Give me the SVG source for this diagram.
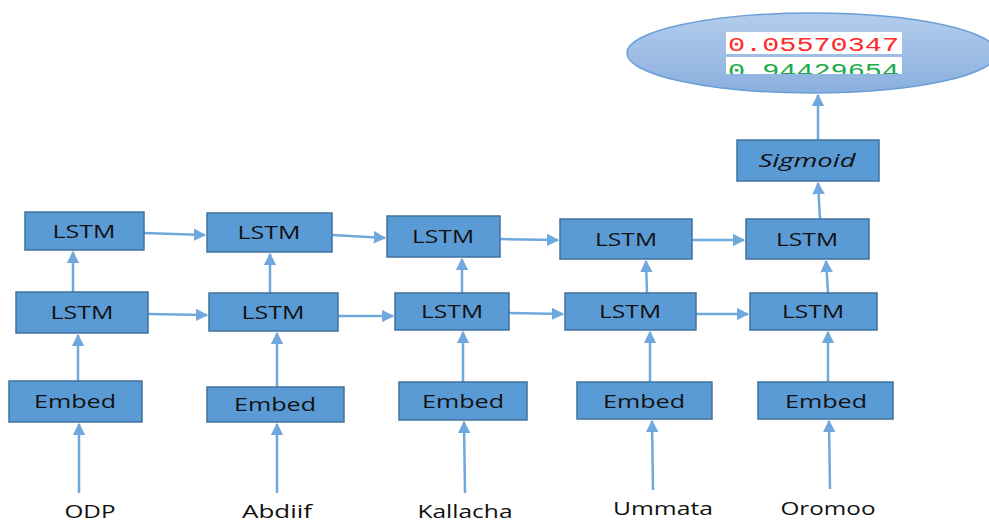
<svg xmlns="http://www.w3.org/2000/svg" width="989" height="525" viewBox="0 0 989 525">
<defs>
<style>
.box{fill:#5B9BD5;stroke:#41719C;stroke-width:1.5}
.lbl{font-family:"Open Sans","Liberation Sans",sans-serif;font-size:19px;fill:#111;text-anchor:middle}
.word{font-family:"Open Sans","Liberation Sans",sans-serif;font-size:19px;fill:#111;text-anchor:middle}
.c{stroke:#6FA8DC;stroke-width:2.5;fill:none;marker-end:url(#ah)}
.num{font-family:"Liberation Mono",monospace;font-size:21px}
</style>
<marker id="ah" viewBox="0 0 10 10" refX="9" refY="5" markerWidth="5" markerHeight="5" orient="auto" markerUnits="strokeWidth">
<path d="M0,0 L10,5 L0,10 z" fill="#6FA8DC"/>
</marker>
<linearGradient id="eg" x1="0" y1="0" x2="0" y2="1">
<stop offset="0" stop-color="#B3CDEC"/>
<stop offset="1" stop-color="#8AAFDE"/>
</linearGradient>
<clipPath id="gclip"><rect x="726" y="57" width="176" height="17"/></clipPath>
</defs>

<g id="connectors">
<line class="c" x1="79" y1="493" x2="79" y2="424"/>
<line class="c" x1="277" y1="493" x2="277" y2="424"/>
<line class="c" x1="465" y1="493" x2="464" y2="422"/>
<line class="c" x1="653" y1="490" x2="652" y2="421"/>
<line class="c" x1="830" y1="489" x2="829" y2="421"/>
<line class="c" x1="78" y1="381" x2="78" y2="335"/>
<line class="c" x1="277" y1="387" x2="277" y2="333"/>
<line class="c" x1="463" y1="382" x2="463" y2="332"/>
<line class="c" x1="650" y1="382" x2="650" y2="332"/>
<line class="c" x1="828" y1="382" x2="828" y2="332"/>
<line class="c" x1="73" y1="292" x2="73" y2="252"/>
<line class="c" x1="270" y1="293" x2="270" y2="254"/>
<line class="c" x1="462" y1="293" x2="462" y2="259"/>
<line class="c" x1="647" y1="293" x2="646" y2="261"/>
<line class="c" x1="828" y1="293" x2="826" y2="261"/>
<line class="c" x1="820" y1="219" x2="818" y2="183"/>
<line class="c" x1="818" y1="140" x2="818" y2="95"/>
<line class="c" x1="144" y1="233" x2="205" y2="235"/>
<line class="c" x1="332" y1="235" x2="385" y2="238"/>
<line class="c" x1="500" y1="239" x2="558" y2="240"/>
<line class="c" x1="692" y1="240" x2="744" y2="240"/>
<line class="c" x1="148" y1="314" x2="207" y2="315"/>
<line class="c" x1="338" y1="316" x2="393" y2="316"/>
<line class="c" x1="509" y1="313" x2="563" y2="314"/>
<line class="c" x1="696" y1="314" x2="748" y2="314"/>
</g>

<g id="output">
<ellipse cx="812" cy="53" rx="185" ry="40" fill="url(#eg)" stroke="#6A9FD5" stroke-width="1.5"/>
<rect x="726" y="32" width="176" height="22" fill="#fff"/>
<rect x="726" y="57" width="176" height="17" fill="#fff"/>
<text class="num" x="728" y="51" fill="#FF2A2A" textLength="171" lengthAdjust="spacingAndGlyphs">0.05570347</text>
<text class="num" x="728" y="77" fill="#1BAA4A" textLength="171" lengthAdjust="spacingAndGlyphs" clip-path="url(#gclip)">0.94429654</text>
</g>

<g id="sigmoid">
<rect class="box" x="737" y="140" width="142" height="41"/>
<text class="lbl" x="807" y="167" font-style="italic" textLength="97" lengthAdjust="spacingAndGlyphs">Sigmoid</text>
</g>

<g id="lstm2-1"><rect class="box" x="25" y="212" width="119" height="38"/><text class="lbl" x="84" y="238" textLength="63" lengthAdjust="spacingAndGlyphs">LSTM</text></g>
<g id="lstm2-2"><rect class="box" x="207" y="213" width="125" height="39"/><text class="lbl" x="269" y="239" textLength="63" lengthAdjust="spacingAndGlyphs">LSTM</text></g>
<g id="lstm2-3"><rect class="box" x="387" y="216" width="113" height="41"/><text class="lbl" x="443" y="243" textLength="62" lengthAdjust="spacingAndGlyphs">LSTM</text></g>
<g id="lstm2-4"><rect class="box" x="560" y="219" width="132" height="40"/><text class="lbl" x="626" y="246" textLength="62" lengthAdjust="spacingAndGlyphs">LSTM</text></g>
<g id="lstm2-5"><rect class="box" x="746" y="219" width="123" height="40"/><text class="lbl" x="807" y="246" textLength="62" lengthAdjust="spacingAndGlyphs">LSTM</text></g>

<g id="lstm1-1"><rect class="box" x="16" y="292" width="132" height="41"/><text class="lbl" x="82" y="319" textLength="63" lengthAdjust="spacingAndGlyphs">LSTM</text></g>
<g id="lstm1-2"><rect class="box" x="209" y="293" width="129" height="38"/><text class="lbl" x="273" y="319" textLength="63" lengthAdjust="spacingAndGlyphs">LSTM</text></g>
<g id="lstm1-3"><rect class="box" x="395" y="293" width="114" height="37"/><text class="lbl" x="452" y="318" textLength="62" lengthAdjust="spacingAndGlyphs">LSTM</text></g>
<g id="lstm1-4"><rect class="box" x="565" y="293" width="131" height="37"/><text class="lbl" x="630" y="318" textLength="62" lengthAdjust="spacingAndGlyphs">LSTM</text></g>
<g id="lstm1-5"><rect class="box" x="750" y="293" width="127" height="37"/><text class="lbl" x="813" y="318" textLength="62" lengthAdjust="spacingAndGlyphs">LSTM</text></g>

<g id="embed-1"><rect class="box" x="9" y="381" width="133" height="41"/><text class="lbl" x="75" y="408" textLength="82" lengthAdjust="spacingAndGlyphs">Embed</text></g>
<g id="embed-2"><rect class="box" x="207" y="387" width="137" height="35"/><text class="lbl" x="275" y="411" textLength="82" lengthAdjust="spacingAndGlyphs">Embed</text></g>
<g id="embed-3"><rect class="box" x="399" y="382" width="128" height="38"/><text class="lbl" x="463" y="408" textLength="82" lengthAdjust="spacingAndGlyphs">Embed</text></g>
<g id="embed-4"><rect class="box" x="577" y="382" width="135" height="37"/><text class="lbl" x="644" y="408" textLength="82" lengthAdjust="spacingAndGlyphs">Embed</text></g>
<g id="embed-5"><rect class="box" x="758" y="382" width="135" height="37"/><text class="lbl" x="826" y="408" textLength="82" lengthAdjust="spacingAndGlyphs">Embed</text></g>

<g id="words">
<text class="word" x="90" y="518" textLength="51" lengthAdjust="spacingAndGlyphs">ODP</text>
<text class="word" x="277" y="518" textLength="70" lengthAdjust="spacingAndGlyphs">Abdiif</text>
<text class="word" x="465" y="518" textLength="95" lengthAdjust="spacingAndGlyphs">Kallacha</text>
<text class="word" x="663" y="515" textLength="100" lengthAdjust="spacingAndGlyphs">Ummata</text>
<text class="word" x="828" y="515" textLength="95" lengthAdjust="spacingAndGlyphs">Oromoo</text>
</g>
</svg>
